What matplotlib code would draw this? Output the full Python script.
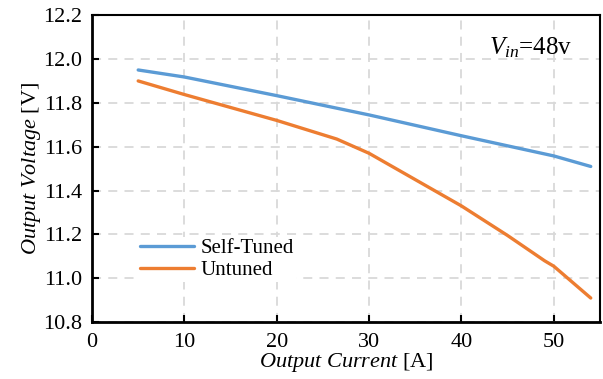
import matplotlib
matplotlib.use("Agg")
from matplotlib import pyplot as plt

plt.rcParams['font.family'] = ['Liberation Serif', 'DejaVu Serif']
plt.rcParams['mathtext.fontset'] = 'custom'
plt.rcParams['mathtext.rm'] = 'Liberation Serif'
plt.rcParams['mathtext.it'] = 'Liberation Serif:italic'

# Data
current_tuned = [5, 10, 20, 30, 40, 50, 54]
volt_tuned = [11.95, 11.918, 11.833, 11.745, 11.65, 11.558, 11.51]

current_untuned = [5, 10, 20, 26.5, 30, 35, 40, 45, 49, 50, 54]
volt_untuned = [11.90, 11.838, 11.72, 11.635, 11.57, 11.45, 11.33, 11.195, 11.08, 11.055, 10.91]

x_ticks = [0, 10, 20, 30, 40, 50]
y_ticks = [10.8, 11.0, 11.2, 11.4, 11.6, 11.8, 12.0, 12.2]

fig = plt.figure(figsize=(6.03, 3.79), dpi=100)
axis = fig.add_axes([0.1526, 0.150, 0.8424, 0.810])

axis.plot(current_tuned, volt_tuned, color='#5B9BD5', lw=2.4,
          label='Self-Tuned', solid_capstyle='round')
axis.plot(current_untuned, volt_untuned, color='#ED7D31', lw=2.4,
          label='Untuned', solid_capstyle='round')

axis.set_xlim(0, 55)
axis.set_ylim(10.8, 12.2)
axis.set_xticks(x_ticks)
axis.set_yticks(y_ticks)
axis.set_yticklabels([f"{v:.1f}" for v in y_ticks])
axis.tick_params(direction='in', length=5, width=1.5, labelsize=16,
                 colors='black')
axis.tick_params(axis='x', pad=8)
axis.tick_params(axis='y', pad=7)

axis.grid(True, color='#d9d9d9', linestyle=(0, (5, 4)), linewidth=1.3)
axis.set_axisbelow(True)
for side in ['left', 'bottom']:
    axis.spines[side].set_linewidth(2.0)
for side in ['top', 'right']:
    axis.spines[side].set_linewidth(1.5)

axis.set_xlabel(r'$\mathit{Output\ Current}$ [A]', fontsize=16, labelpad=-1)
axis.set_ylabel(r'$\mathit{Output\ Voltage}$ [V]', fontsize=16, labelpad=0)

axis.text(0.945, 0.893, r'$V_{in}$=48v', transform=axis.transAxes,
          fontsize=18, ha='right', va='center')

axis.legend(loc='lower left', bbox_to_anchor=(0.09, 0.13), frameon=True,
            framealpha=1, edgecolor='none', fancybox=False, fontsize=15,
            handlelength=2.6, handletextpad=0.3, labelspacing=0.1,
            borderpad=0.1, borderaxespad=0)

fig.savefig('out.png', dpi=100)
